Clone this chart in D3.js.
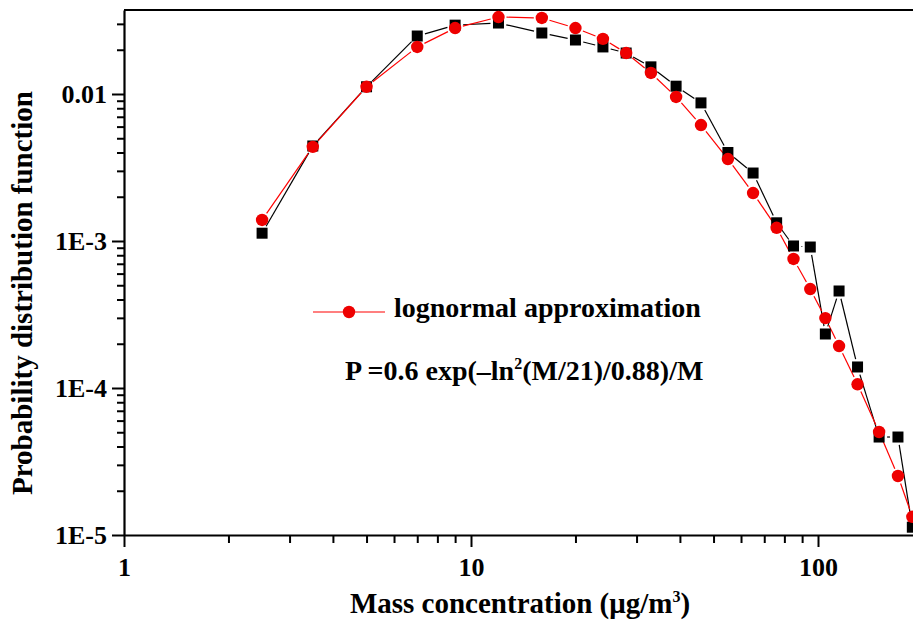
<!DOCTYPE html>
<html lang="en">
<head>
<meta charset="UTF-8">
<title>Mass concentration PDF</title>
<script src="https://d3js.org/d3.v7.min.js"></script>
<style>
  body { margin: 0; background: #fff; }
  svg text { font-family: "Liberation Serif", "Times New Roman", serif; font-weight: bold; fill: #000; }
</style>
</head>
<body>
<div id="chart"></div>
<script>
// data
var massConc  = [2.5, 3.5, 5, 7, 9, 12, 16, 20, 24, 28, 33, 39, 46, 55, 65, 76, 85, 95, 105, 115, 130, 150, 170, 187];
var measured  = [1.13e-3, 4.43e-3, 0.0112, 0.0248, 0.0294, 0.0304, 0.0260, 0.0233, 0.0209, 0.0190, 0.0153, 0.0113,
                 8.7e-3, 4.0e-3, 2.9e-3, 1.33e-3, 9.25e-4, 9.1e-4, 2.33e-4, 4.57e-4, 1.39e-4, 4.64e-5, 4.64e-5, 1.13e-5];
var lognormal = [1.39e-3, 4.37e-3, 0.0112, 0.0209, 0.0281, 0.0334, 0.0329, 0.0281, 0.0237, 0.0190, 0.0139, 9.55e-3,
                 6.15e-3, 3.61e-3, 2.12e-3, 1.23e-3, 7.55e-4, 4.71e-4, 2.99e-4, 1.93e-4, 1.06e-4, 5.02e-5, 2.52e-5, 1.33e-5];
var xMajor = [1, 10, 100];
var yMajor = [1e-5, 1e-4, 1e-3, 0.01];
var yLabels = ["1E-5", "1E-4", "1E-3", "0.01"];

var W = 913, H = 622;
var plotLeft = 124, plotTop = 10, plotRight = 913, plotBottom = 535;

var svg = d3.select("#chart").append("svg")
  .attr("width", W)
  .attr("height", H);

// log scales (the plot runs off the right edge, like the original)
var x = d3.scaleLog().domain([1, Math.pow(10, (plotRight - plotLeft) / 347)]).range([plotLeft, plotRight]);
var y = d3.scaleLog().domain([1e-5, Math.pow(10, -5 + (plotBottom - plotTop) / 147)]).range([plotBottom, plotTop]);

function minors(scale) {
  var d = scale.domain(), out = [];
  for (var e = Math.floor(Math.log10(d[0])); e <= Math.ceil(Math.log10(d[1])); e++) {
    for (var k = 2; k <= 9; k++) {
      var v = k * Math.pow(10, e);
      if (v > d[0] && v < d[1]) out.push(v);
    }
  }
  return out;
}

// minor ticks
svg.append("g")
  .attr("transform", "translate(0," + plotBottom + ")")
  .call(d3.axisBottom(x).tickValues(minors(x)).tickSize(8).tickFormat(""))
  .call(function(g) { g.select(".domain").remove(); });
svg.append("g")
  .attr("transform", "translate(" + plotLeft + ",0)")
  .call(d3.axisLeft(y).tickValues(minors(y)).tickSize(7).tickFormat(""))
  .call(function(g) { g.select(".domain").remove(); });

// major ticks + labels
var xAxis = svg.append("g")
  .attr("transform", "translate(0," + plotBottom + ")")
  .call(d3.axisBottom(x).tickValues(xMajor).tickSize(12).tickPadding(10).tickSizeOuter(0)
    .tickFormat(function(d) { return String(d); }));
xAxis.selectAll("text").style("font-size", "26px").attr("dy", "0.71em").attr("y", 23);

var yAxis = svg.append("g")
  .attr("transform", "translate(" + plotLeft + ",0)")
  .call(d3.axisLeft(y).tickValues(yMajor).tickSize(12).tickPadding(6).tickSizeOuter(0)
    .tickFormat(function(d, i) { return yLabels[i]; }));
yAxis.selectAll("text").style("font-size", "26px").attr("dy", "0.34em").attr("x", -17);

svg.selectAll(".tick line").attr("stroke", "#000").attr("stroke-width", 2);
svg.selectAll(".domain").attr("stroke", "#000").attr("stroke-width", 2.2);

// top frame
svg.append("line")
  .attr("x1", plotLeft).attr("x2", plotRight)
  .attr("y1", plotTop).attr("y2", plotTop)
  .attr("stroke", "#000").attr("stroke-width", 2.2);

// connecting lines with small gaps around the symbols
function gappedSegments(vals, gap) {
  var pts = massConc.map(function(m, i) { return [x(m), y(vals[i])]; });
  var segs = [];
  for (var i = 0; i < pts.length - 1; i++) {
    var a = pts[i], b = pts[i + 1];
    var dx = b[0] - a[0], dy = b[1] - a[1], len = Math.sqrt(dx * dx + dy * dy);
    if (len <= 2 * gap) continue;
    var ux = dx / len, uy = dy / len;
    segs.push([a[0] + ux * gap, a[1] + uy * gap, b[0] - ux * gap, b[1] - uy * gap]);
  }
  return segs;
}

var plot = svg.append("g");

plot.selectAll("line.meas")
  .data(gappedSegments(measured, 8))
  .enter().append("line")
  .attr("class", "meas")
  .attr("x1", function(d) { return d[0]; }).attr("y1", function(d) { return d[1]; })
  .attr("x2", function(d) { return d[2]; }).attr("y2", function(d) { return d[3]; })
  .attr("stroke", "#000").attr("stroke-width", 1.2);

plot.selectAll("line.logn")
  .data(gappedSegments(lognormal, 8))
  .enter().append("line")
  .attr("class", "logn")
  .attr("x1", function(d) { return d[0]; }).attr("y1", function(d) { return d[1]; })
  .attr("x2", function(d) { return d[2]; }).attr("y2", function(d) { return d[3]; })
  .attr("stroke", "#ff0000").attr("stroke-width", 1.2);

// measured: black squares
plot.selectAll("rect.meas")
  .data(massConc)
  .enter().append("rect")
  .attr("class", "meas")
  .attr("x", function(d) { return x(d) - 5.5; })
  .attr("y", function(d, i) { return y(measured[i]) - 5.5; })
  .attr("width", 11).attr("height", 11)
  .attr("fill", "#000");

// lognormal: red circles
plot.selectAll("circle.logn")
  .data(massConc)
  .enter().append("circle")
  .attr("class", "logn")
  .attr("cx", function(d) { return x(d); })
  .attr("cy", function(d, i) { return y(lognormal[i]); })
  .attr("r", 6.2)
  .attr("fill", "#ee0000");

// legend
var leg = svg.append("g").attr("transform", "translate(313,312)");
leg.append("line").attr("x1", 0).attr("x2", 72).attr("y1", 0).attr("y2", 0)
  .attr("stroke", "#ff0000").attr("stroke-width", 1.2);
leg.append("circle").attr("cx", 36).attr("cy", 0).attr("r", 6.2).attr("fill", "#ee0000");
leg.append("text").attr("x", 81).attr("y", 5).style("font-size", "28px")
  .text("lognormal approximation");

// formula
var f = svg.append("text").attr("x", 345).attr("y", 380).style("font-size", "28px");
f.append("tspan").text("P =0.6 exp(\u2013ln");
f.append("tspan").attr("dy", -11).style("font-size", "16px").text("2");
f.append("tspan").attr("dy", 11).text("(M/21)/0.88)/M");

// axis titles
var xt = svg.append("text")
  .attr("x", 520).attr("y", 613)
  .attr("text-anchor", "middle")
  .style("font-size", "29px");
xt.append("tspan").text("Mass concentration (\u03bcg/m");
xt.append("tspan").attr("dy", -11).style("font-size", "16px").text("3");
xt.append("tspan").attr("dy", 11).text(")");

svg.append("text")
  .attr("transform", "translate(32,293) rotate(-90)")
  .attr("text-anchor", "middle")
  .style("font-size", "29px")
  .text("Probability distribution function");
</script>
</body>
</html>
